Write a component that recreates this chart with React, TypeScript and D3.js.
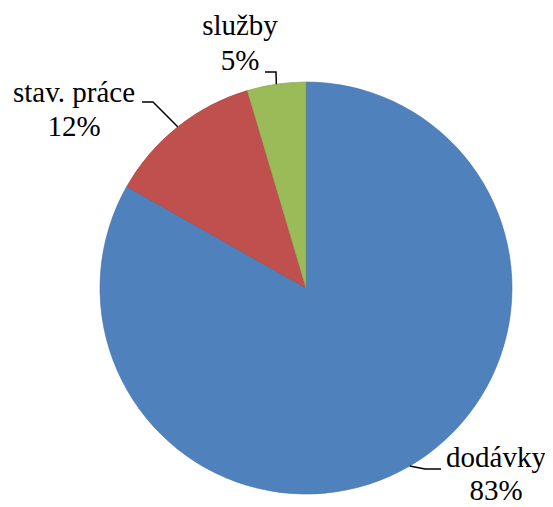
import React, { useEffect, useState } from "react";
import * as d3 from "d3";

const categories = ["dodávky", "stav. práce", "služby"];
const values = [83.2, 12.2, 4.6];
const percentLabels = ["83%", "12%", "5%"];
const colors = ["#4F81BD", "#C0504D", "#9BBB59"];

const W = 553;
const H = 507;
const cx = 306;
const cy = 288;
const R = 206;
const PAGE_MARGIN = 8;
const FONT = "Liberation Serif, Times New Roman, Tinos, serif";
const FONT_SIZE = 29;

// label layout: label x center, name baseline, pct baseline, elbow, end
const labelLayout = [
  { x: 496, y1: 467, y2: 500, elbow: [425, 469], end: [441, 469] },
  { x: 74, y1: 102, y2: 136, elbow: [153, 102], end: [142, 102] },
  { x: 240, y1: 35, y2: 70, elbow: [276, 72], end: [265, 72] },
];

export default function App() {
  const [fontTick, setFontTick] = useState(0);

  useEffect(() => {
    const fonts = (document as any).fonts;
    if (fonts && fonts.load) {
      Promise.all([
        fonts.load(`${FONT_SIZE}px "Liberation Serif"`, "služby dodávky stav. práce 83%"),
        fonts.load(`${FONT_SIZE}px "Times New Roman"`, "služby dodávky stav. práce 83%"),
      ])
        .catch(() => null)
        .then(() => setFontTick((t) => t + 1));
    }
  }, []);

  const pie = d3.pie<number>().sort(null).value((d) => d);
  const arcs = pie(values);
  const arcGen = d3.arc<d3.PieArcDatum<number>>().innerRadius(0).outerRadius(R);

  return (
    <svg width={W} height={H} fontFamily={FONT}>
      <g transform={`translate(${-PAGE_MARGIN},${-PAGE_MARGIN})`}>
        <g transform={`translate(${cx},${cy})`}>
          {arcs.map((a, i) => (
            <path
              key={i}
              d={arcGen(a) || ""}
              fill={colors[i]}
              stroke={d3.color(colors[i])!.darker(0.4).toString()}
              strokeWidth={0.6}
            />
          ))}
        </g>
        {arcs.map((a, i) => {
          const mid = (a.startAngle + a.endAngle) / 2;
          const sx = cx + R * Math.sin(mid);
          const sy = cy - R * Math.cos(mid);
          const L = labelLayout[i];
          return (
            <g key={`${i}-${fontTick}`}>
              <polyline
                points={`${sx},${sy} ${L.elbow[0]},${L.elbow[1]} ${L.end[0]},${L.end[1]}`}
                fill="none"
                stroke="#000"
                strokeWidth={1.5}
              />
              <text
                x={L.x}
                y={L.y1}
                textAnchor="middle"
                fontFamily={FONT}
                fontSize={FONT_SIZE}
                fill="#000"
              >
                {categories[i]}
              </text>
              <text
                x={L.x}
                y={L.y2}
                textAnchor="middle"
                fontFamily={FONT}
                fontSize={FONT_SIZE}
                fill="#000"
              >
                {percentLabels[i]}
              </text>
            </g>
          );
        })}
      </g>
    </svg>
  );
}
